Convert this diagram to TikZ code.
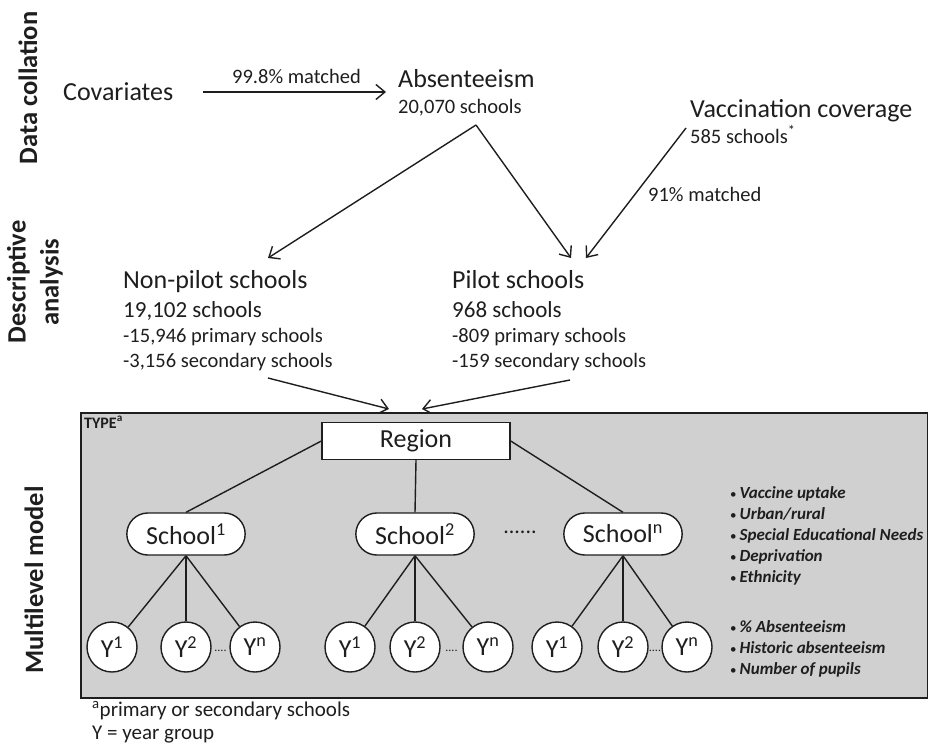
\documentclass[tikz,border=0pt]{standalone}
\usepackage{fontspec}
\setmainfont{Carlito}
\usetikzlibrary{positioning,arrows.meta,shapes.misc,calc}
\definecolor{mlgray}{HTML}{D0D0D0}
\definecolor{inkC}{HTML}{1E1E1E}
\newcommand{\fsz}[1]{\fontsize{#1}{#1}\selectfont}

\begin{document}
\begin{tikzpicture}[x=1pt, y=-1pt,
  every node/.style={text=inkC},
  bigtxt/.style={font=\fsz{26}, anchor=base west, inner sep=0pt},
  midtxt/.style={font=\fsz{23}, anchor=base west, inner sep=0pt},
  smalltxt/.style={font=\fsz{20.5}, anchor=base west, inner sep=0pt},
  phase/.style={font=\bfseries\fontsize{26.5}{33}\selectfont, rotate=90, align=center, inner sep=0pt},
  flow/.style={-{Straight Barb[length=9pt,width=15pt]}, line width=1.4pt, draw=inkC},
  link/.style={line width=1.4pt, draw=inkC},
  regionbox/.style={rectangle, draw=inkC, line width=1.4pt, fill=white,
                    minimum width=188pt, minimum height=37pt, font=\fsz{26}},
  schoolbox/.style={rounded rectangle, draw=inkC, line width=1.4pt, fill=white,
                    minimum width=125pt, minimum height=42pt, font=\fsz{26}},
  yearnode/.style={circle, draw=inkC, line width=1.4pt, fill=white,
                   minimum size=50pt, inner sep=0pt, font=\fsz{26}},
  covar/.style={font=\bfseries\itshape\fsz{17}, anchor=base west, inner sep=0pt}
]
  \useasboundingbox (0,0) rectangle (928,750);

  % stage labels
  \node[phase] (pcoll) at (28,88) {Data collation};
  \node[phase] (pdesc) at (35,282) {Descriptive\\analysis};
  \node[phase] (pmodel) at (34,580) {Multilevel model};

  % data collation
  \node[bigtxt] (cov) at (63,100) {Covariates};
  \node[bigtxt] (abs) at (398,87) {Absenteeism};
  \node[smalltxt] (absn) at (398,113) {20,070 schools};
  \node[bigtxt] (vacc) at (690,117) {Vaccination coverage};
  \node[smalltxt] (vaccn) at (690,143) {585 schools\textsuperscript{*}};
  \coordinate (covout) at (203,92);
  \coordinate (absin) at (386,92);
  \draw[flow] (covout) -- (absin);
  \node[smalltxt] (covm) at (232,83) {99.8\% matched};

  % descriptive analysis
  \node[bigtxt] (np) at (123,288) {Non-pilot schools};
  \node[midtxt] (npn) at (123,317) {19,102 schools};
  \node[smalltxt] (npa) at (123,342) {-15,946 primary schools};
  \node[smalltxt] (npb) at (123,367) {-3,156 secondary schools};
  \node[bigtxt] (pl) at (452,288) {Pilot schools};
  \node[midtxt] (pln) at (452,317) {968 schools};
  \node[smalltxt] (pla) at (452,342) {-809 primary schools};
  \node[smalltxt] (plb) at (452,367) {-159 secondary schools};

  \coordinate (absapex) at (476,125);
  \coordinate (vaccfoot) at (686,128);
  \coordinate (npin) at (268,258);
  \coordinate (plin) at (571,258);
  \coordinate (plin2) at (586,258);
  \draw[flow] (absapex) -- (npin);
  \draw[flow] (absapex) -- (plin);
  \draw[flow] (vaccfoot) -- (plin2);
  \node[smalltxt] (vaccm) at (648,201) {91\% matched};

  \coordinate (npout) at (268,378);
  \coordinate (plout) at (570,380);
  \coordinate (boxinl) at (389,409);
  \coordinate (boxinr) at (422,409);
  \draw[flow] (npout) -- (boxinl);
  \draw[flow] (plout) -- (boxinr);

  % multilevel model
  \node[draw=inkC, line width=1.8pt, fill=mlgray, minimum width=847pt, minimum height=285pt,
        anchor=north west, inner sep=0pt] (mlbox) at (80,412) {};
  \node[font=\bfseries\fsz{16}, anchor=north west, inner sep=0pt] (typelbl) at (84,416) {TYPE\textsuperscript{a}};

  \node[regionbox] (region) at (416,441) {Region};
  \node[schoolbox] (s1) at (186,534) {School\textsuperscript{1}};
  \node[schoolbox] (s2) at (415,534) {School\textsuperscript{2}};
  \node[schoolbox] (sn) at (623,534) {School\textsuperscript{n}};
  \node[font=\fsz{22}, inner sep=0pt] (sdots) at (520,532) {......};
  \draw[link] (region.west) -- (s1.north);
  \draw[link] (region.south) -- (s2.north);
  \draw[link] (region.east) -- (sn.north);

  \foreach \sc/\xa/\xb/\xc in {1/112/186/255, 2/350/415/488, n/557/623/687} {
    \node[yearnode] (y\sc a) at (\xa,647) {Y\textsuperscript{1}};
    \node[yearnode] (y\sc b) at (\xb,647) {Y\textsuperscript{2}};
    \node[yearnode] (y\sc c) at (\xc,647) {Y\textsuperscript{n}};
    \node[font=\fsz{12}, inner sep=0pt] (yd\sc) at ($(y\sc b.east)!0.5!(y\sc c.west)+(0,4)$) {....};
    \draw[link] (s\sc.south) -- (y\sc a);
    \draw[link] (s\sc.south) -- (y\sc b);
    \draw[link] (s\sc.south) -- (y\sc c);
  }

  % covariates at school and year level
  \foreach \t [count=\i from 0] in {Vaccine uptake, Urban/rural, Special Educational Needs, Deprivation, Ethnicity}
    \node[covar] (cs\i) at (730,498+21*\i) {{\normalfont\fsz{13}\textbullet}\hspace{3pt}\t};
  \foreach \t [count=\i from 0] in {\% Absenteeism, Historic absenteeism, Number of pupils}
    \node[covar] (cy\i) at (730,632+21*\i) {{\normalfont\fsz{13}\textbullet}\hspace{3pt}\t};

  % footnotes
  \node[font=\fsz{21}, anchor=base west, inner sep=0pt] (note1) at (92,716) {\textsuperscript{a}primary or secondary schools};
  \node[font=\fsz{21}, anchor=base west, inner sep=0pt] (note2) at (92,739) {Y = year group};
\end{tikzpicture}
\end{document}
